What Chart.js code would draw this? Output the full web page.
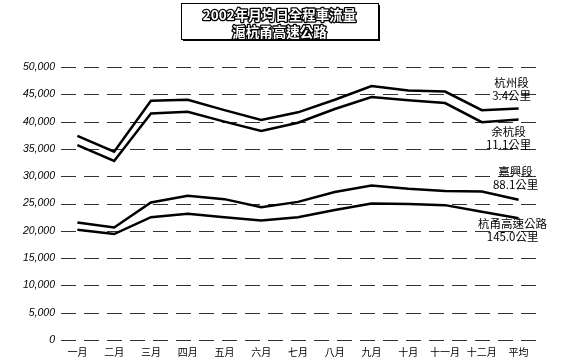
<!DOCTYPE html>
<html>
<head>
<meta charset="utf-8">
<script src="https://cdn.jsdelivr.net/npm/chart.js@4/dist/chart.umd.min.js"></script>
<style>
  html, body { margin: 0; padding: 0; background: #fff; }
  #wrap { width: 563px; height: 364px; position: relative; }
</style>
</head>
<body>
<div id="wrap"><canvas id="c" width="563" height="364"></canvas></div>
<script>
// Monthly categories (plus yearly average)
const months = ['一月','二月','三月','四月','五月','六月','七月','八月','九月','十月','十一月','十二月','平均'];

// Average daily traffic per section (vehicles/day)
const hangzhou = [37400, 34500, 43800, 44000, 42100, 40300, 41700, 44000, 46500, 45700, 45500, 42100, 42400];
const yuhang   = [35700, 32800, 41500, 41800, 40000, 38300, 39800, 42300, 44500, 43900, 43400, 39900, 40400];
const jiaxing  = [21500, 20600, 25200, 26400, 25800, 24300, 25300, 27100, 28300, 27700, 27300, 27200, 25700];
const hangyong = [20200, 19400, 22500, 23100, 22500, 21900, 22500, 23800, 25000, 24900, 24700, 23500, 22300];

// Section names and lengths shown beside the line ends
const sectionNames = ['杭州段', '余杭段', '嘉興段', '杭甬高速公路'];
const sectionLengths = ['3.4公里', '11.1公里', '88.1公里', '145.0公里'];

const titleLines = ['2002年月均日全程車流量', '滬杭甬高速公路'];

const CJK = '"Noto Sans CJK TC", "Noto Sans CJK SC", sans-serif';

// Boxed title with outlined lettering
const titleBox = {
  id: 'titleBox',
  afterDraw(chart) {
    const ctx = chart.ctx;
    ctx.save();
    const x = 181, y = 3, w = 197, h = 36;
    ctx.fillStyle = '#000';
    ctx.fillRect(x + 2, y + 2, w, h);
    ctx.fillStyle = '#fff';
    ctx.fillRect(x, y, w, h);
    ctx.strokeStyle = '#000';
    ctx.lineWidth = 1;
    ctx.strokeRect(x + 0.5, y + 0.5, w, h);
    ctx.font = 'bold 13.5px ' + CJK;
    ctx.textAlign = 'center';
    ctx.textBaseline = 'middle';
    ctx.lineJoin = 'round';
    const cx = x + w / 2;
    [15, 32].forEach((ty, i) => {
      ctx.lineWidth = 2.6;
      ctx.strokeStyle = '#000';
      ctx.strokeText(titleLines[i], cx, ty);
      ctx.fillStyle = '#fff';
      ctx.fillText(titleLines[i], cx, ty);
    });
    ctx.restore();
  }
};

// Dashed horizontal gridlines at each y-axis tick
const dashedGrid = {
  id: 'dashedGrid',
  beforeDatasetsDraw(chart) {
    const { ctx, chartArea } = chart;
    const yScale = chart.scales.y;
    ctx.save();
    ctx.strokeStyle = '#333';
    ctx.lineWidth = 1;
    ctx.setLineDash([15, 8]);
    yScale.ticks.forEach(t => {
      const py = Math.round(yScale.getPixelForValue(t.value)) + 0.5;
      ctx.beginPath();
      ctx.moveTo(chartArea.left + 2, py);
      ctx.lineTo(chartArea.right, py);
      ctx.stroke();
    });
    ctx.restore();
  }
};

// Section labels placed next to each series' last point
const endLabels = {
  id: 'endLabels',
  afterDatasetsDraw(chart) {
    const ctx = chart.ctx;
    const offsets = [
      { dx: -7, dy: [-26, -13] },
      { dx: -10, dy: [12, 25] },
      { dx: -3, dy: [-28, -15] },
      { dx: -6, dy: [5, 18] }
    ];
    ctx.save();
    ctx.font = '11.5px ' + CJK;
    ctx.fillStyle = '#000';
    ctx.textAlign = 'center';
    ctx.textBaseline = 'middle';
    chart.data.datasets.forEach((ds, i) => {
      const meta = chart.getDatasetMeta(i);
      const pt = meta.data[meta.data.length - 1];
      const o = offsets[i];
      ctx.fillText(sectionNames[i], pt.x + o.dx, pt.y + o.dy[0]);
      ctx.fillText(sectionLengths[i], pt.x + o.dx, pt.y + o.dy[1]);
    });
    ctx.restore();
  }
};

const lineStyle = {
  borderColor: '#000',
  borderWidth: 2.5,
  pointRadius: 0,
  tension: 0,
  fill: false
};

new Chart(document.getElementById('c'), {
  type: 'line',
  data: {
    labels: months,
    datasets: [
      Object.assign({ label: sectionNames[0], data: hangzhou }, lineStyle),
      Object.assign({ label: sectionNames[1], data: yuhang }, lineStyle),
      Object.assign({ label: sectionNames[2], data: jiaxing }, lineStyle),
      Object.assign({ label: sectionNames[3], data: hangyong }, lineStyle)
    ]
  },
  options: {
    responsive: false,
    animation: false,
    devicePixelRatio: 1,
    layout: { padding: { top: 67, right: 26, left: 0, bottom: 0 } },
    plugins: {
      legend: { display: false },
      title: { display: false },
      tooltip: { enabled: false }
    },
    scales: {
      x: {
        offset: true,
        grid: { display: false, drawTicks: false },
        border: { display: false },
        ticks: {
          color: '#000',
          padding: 6,
          maxRotation: 0,
          autoSkip: false,
          font: { family: CJK, size: 10 }
        },
        afterFit(scale) { scale.height = 24; }
      },
      y: {
        min: 0,
        max: 50000,
        grid: { display: false, drawTicks: false },
        border: { display: false },
        ticks: {
          stepSize: 5000,
          color: '#000',
          padding: 4,
          font: { family: '"Liberation Sans", Arial, sans-serif', size: 10.5, style: 'italic' },
          callback: v => v.toLocaleString('en-US')
        },
        afterFit(scale) { scale.width = 59; }
      }
    }
  },
  plugins: [dashedGrid, titleBox, endLabels]
});
</script>
</body>
</html>
